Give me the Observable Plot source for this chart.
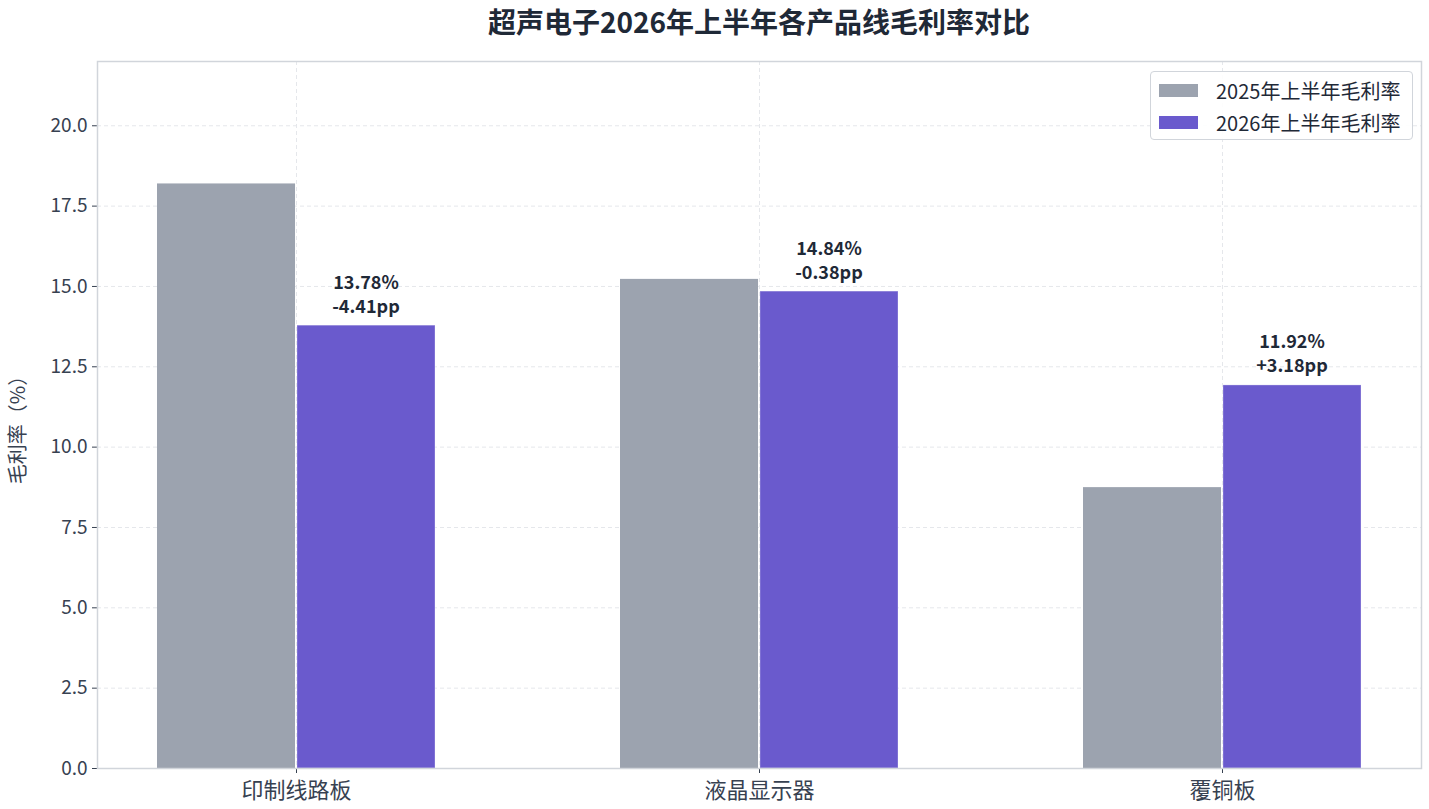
<!DOCTYPE html>
<html>
<head>
<meta charset="utf-8">
<script src="https://cdn.jsdelivr.net/npm/d3@7"></script>
<script src="https://cdn.jsdelivr.net/npm/@observablehq/plot@0.6"></script>
<style>
  body { margin: 0; background: #fff; font-family: "Noto Sans CJK SC", "Noto Sans", sans-serif; }
  #wrap { position: relative; width: 1429px; }
  #title { height: 48px; box-sizing: border-box; padding: 3px 8px 0 97px; text-align: center;
           font-size: 28px; font-weight: bold; color: #1f2937; line-height: 36px; }
  #legend { position: absolute; left: 1150px; top: 71px; width: 263px; height: 69px; box-sizing: border-box;
            border: 1px solid #d1d5db; border-radius: 4px; background: rgba(255,255,255,0.9); padding-top: 2px; }
  .item { display: flex; align-items: center; height: 32px; font-size: 20px; color: #1f2937; }
  .sw { width: 39px; height: 13px; margin-left: 8px; margin-right: 18px; }
</style>
</head>
<body>
<div id="wrap">
  <div id="title">超声电子2026年上半年各产品线毛利率对比</div>
  <div id="chart"></div>
  <div id="legend"></div>
</div>
<script>
const categories = ["印制线路板", "液晶显示器", "覆铜板"];
const series = ["2025年上半年毛利率", "2026年上半年毛利率"];
const values2025 = [18.19, 15.22, 8.74];
const values2026 = [13.78, 14.84, 11.92];
const yTicks = [0, 2.5, 5, 7.5, 10, 12.5, 15, 17.5, 20];
const colors = ["#9ca3af", "#6a5acd"];

const W = 1429, H = 761;
const mL = 97, mR = 8, mT = 13, mB = 41;
const padIn = 0.4, padOut = 0.129;
const step = (W - mL - mR) / (categories.length - padIn + 2 * padOut);
const half = step * (1 - padIn) / 2;

const rows25 = categories.map((c, i) => ({cat: c, v: values2025[i]}));
const rows26 = categories.map((c, i) => {
  const d = values2026[i] - values2025[i];
  return {cat: c, v: values2026[i],
    label: values2026[i].toFixed(2) + "%\n" + (d >= 0 ? "+" : "") + d.toFixed(2) + "pp"};
});

const grid = {stroke: "#e5e7eb", strokeOpacity: 1, strokeDasharray: "4,3", strokeWidth: 1};

const plot = Plot.plot({
  width: W, height: H,
  marginLeft: mL, marginRight: mR, marginTop: mT, marginBottom: mB,
  style: {fontFamily: "'Noto Sans CJK SC', 'Noto Sans', sans-serif", color: "#374151", background: "#fff", fontSize: "19px"},
  x: {type: "band", domain: categories, paddingInner: padIn, paddingOuter: padOut, label: null},
  y: {domain: [0, 22], label: null},
  marks: [
    Plot.gridY(yTicks, grid),
    Plot.gridX(categories, grid),
    Plot.barY(rows25, {x: "cat", y: "v", fill: colors[0], insetLeft: 0, insetRight: half + 1}),
    Plot.barY(rows26, {x: "cat", y: "v", fill: colors[1], insetLeft: half + 1, insetRight: 0,
      stroke: "#ffffff", strokeOpacity: 0.3, strokeWidth: 1}),
    Plot.text(rows26, {x: "cat", y: "v", text: "label", dx: half / 2, dy: -13,
      lineAnchor: "bottom", lineHeight: 1.33, fontSize: 18, fontWeight: "bold", fill: "#1f2937"}),
    Plot.axisY({ticks: yTicks, tickFormat: d => d.toFixed(1), tickSize: 5, tickPadding: 5,
      fontSize: 19, stroke: "#374151", fill: "#374151", label: null}),
    Plot.axisX({tickSize: 5, tickPadding: 9, fontSize: 22, fill: "#374151", stroke: "#374151", label: null}),
    Plot.frame({stroke: "#d1d5db", strokeWidth: 1.5}),
    Plot.text(["毛利率（%）"], {frameAnchor: "left", textAnchor: "middle", dx: -79, dy: 10, rotate: -90,
      fontSize: 20, fill: "#374151"})
  ]
});
plot.querySelectorAll('[aria-label="y-axis tick label"]').forEach(g => g.setAttribute("font-size", "19"));
plot.querySelectorAll('[aria-label="x-axis tick label"]').forEach(g => g.setAttribute("font-size", "22"));
document.getElementById("chart").appendChild(plot);

const legend = document.getElementById("legend");
series.forEach((s, i) => {
  const it = document.createElement("div");
  it.className = "item";
  it.innerHTML = `<span class="sw" style="background:${colors[i]}"></span><span>${s}</span>`;
  legend.appendChild(it);
});
</script>
</body>
</html>
